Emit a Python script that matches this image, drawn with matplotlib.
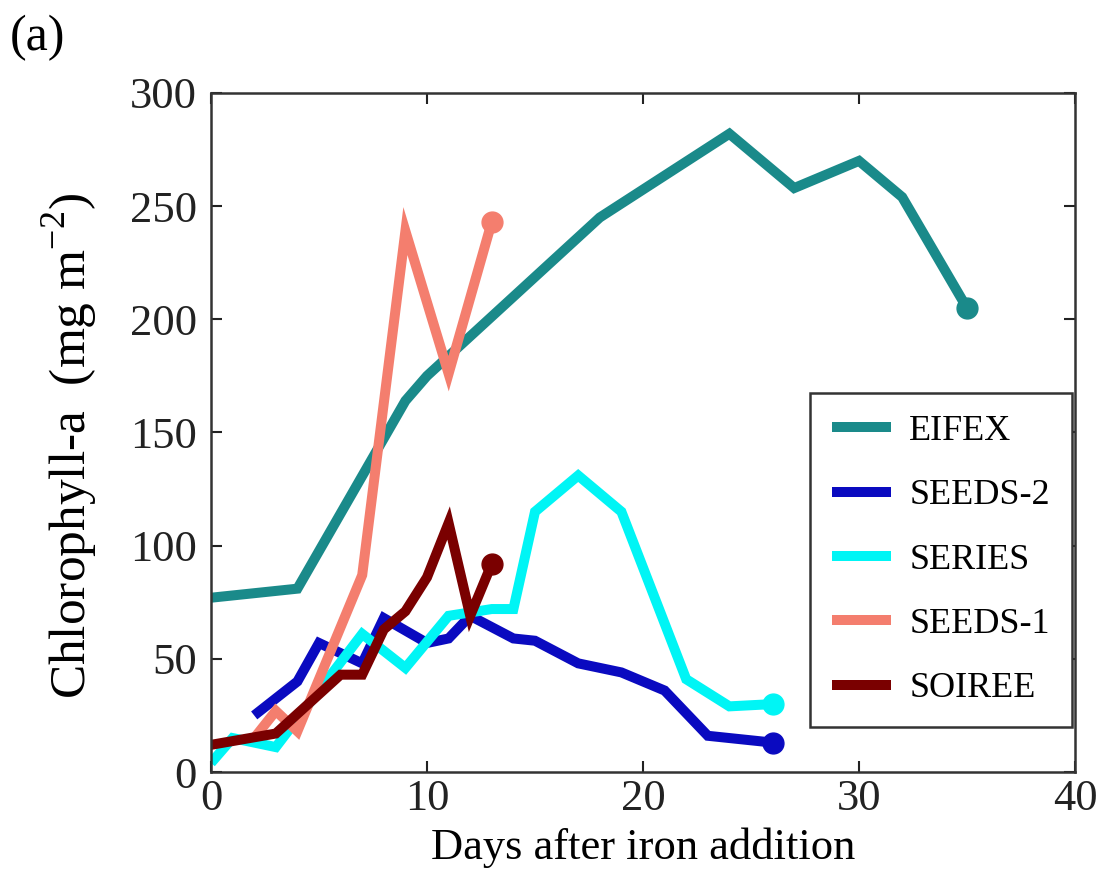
import matplotlib
matplotlib.use("Agg")
import matplotlib.pyplot as plt

plt.rcParams['font.family'] = ['Liberation Serif', 'DejaVu Serif']
plt.rcParams['mathtext.fontset'] = 'custom'
plt.rcParams['mathtext.rm'] = 'Liberation Serif'

eifex_x = [0, 4, 9, 10, 18, 24, 27, 30, 32, 35]
eifex_y = [77, 81, 164, 175, 245, 282, 258, 270, 254, 205]

seeds2_x = [2, 4, 5, 7, 8, 10, 11, 12, 13, 14, 15, 17, 19, 21, 23, 26]
seeds2_y = [25, 40, 57, 48, 68, 57, 59, 69, 64, 59, 58, 48, 44, 36, 16, 13]

series_x = [0, 1, 3, 7, 9, 11, 13, 14, 15, 17, 19, 22, 24, 26]
series_y = [4, 15, 11, 61, 46, 69, 72, 72, 115, 131, 115, 41, 29, 30]

seeds1_x = [2, 3, 4, 7, 9, 11, 13]
seeds1_y = [15, 27, 18, 87, 239, 176, 243]

soiree_x = [0, 3, 6, 7, 8, 9, 10, 11, 12, 13]
soiree_y = [12, 17, 43, 43, 63, 71, 86, 110, 69, 92]

names = ["EIFEX", "SEEDS-2", "SERIES", "SEEDS-1", "SOIREE"]
colors = ["#1a8a8a", "#0a0ac0", "#00f5f5", "#f47e6e", "#7a0000"]
xs = [eifex_x, seeds2_x, series_x, seeds1_x, soiree_x]
ys = [eifex_y, seeds2_y, series_y, seeds1_y, soiree_y]

fig = plt.figure(figsize=(10.99, 8.77), dpi=100)
ax = fig.add_axes([211/1099, 1-772/877, (1075-211)/1099, (772-93)/877])

for n, c, x, y in zip(names, colors, xs, ys):
    ax.plot(x, y, color=c, lw=7.2, label=n, solid_joinstyle='miter', solid_capstyle='butt')
    ax.plot(x[-1], y[-1], 'o', color=c, ms=15)

ax.set_xlim(0, 40)
ax.set_ylim(0, 300)
ax.set_xticks([0, 10, 20, 30, 40])
ax.set_yticks([0, 50, 100, 150, 200, 250, 300])
ax.tick_params(direction='in', top=True, right=True, length=8, width=1.5,
               labelsize=32, pad=10, colors='#222222')
ax.tick_params(axis='x', pad=5)
for s in ax.spines.values():
    s.set_linewidth(1.8)
    s.set_color('#333333')

ax.set_xlabel("Days after iron addition", fontsize=32, labelpad=6)
ax.set_ylabel("Chlorophyll-a  (mg m$^{-2}$)", fontsize=37)
ax.yaxis.set_label_coords(-0.128, 0.48)

leg = ax.legend(loc='upper left', bbox_to_anchor=((810-211)/864, (772-393)/679),
                borderaxespad=0, fontsize=26, handlelength=1.65, handletextpad=0.5,
                labelspacing=0.86, borderpad=0.6, fancybox=False,
                edgecolor='#333333', framealpha=1)
leg.get_frame().set_linewidth(1.8)
for line in leg.get_lines():
    line.set_linewidth(7.2)

fig.text(10/1099, 1-38/877, "(a)", fontsize=36, va='center', ha='left')

fig.savefig("out.png", dpi=100)
